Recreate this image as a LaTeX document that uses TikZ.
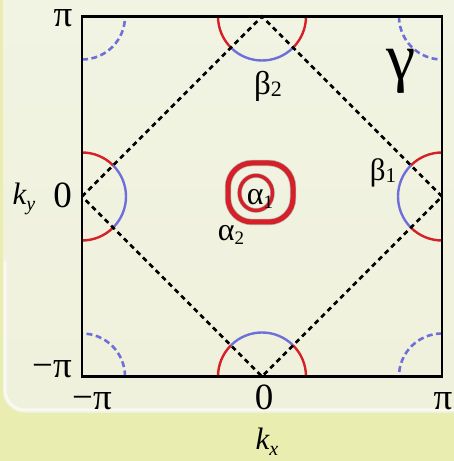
\documentclass[tikz,border=0pt]{standalone}
\usepackage{fontspec}
\setmainfont{Liberation Serif}
\definecolor{bandc}{HTML}{E9EDB0}
\definecolor{panelc}{HTML}{EFF1DC}
\definecolor{paneltop}{HTML}{F2F4E4}
\definecolor{fsblue}{HTML}{6F6FDB}
\definecolor{fsred}{HTML}{D61F26}
\tikzset{
  framebox/.style={line width=2.8pt, draw=black},
  bzone/.style={line width=2.6pt, draw=black, dash pattern=on 5pt off 4pt},
  redarc/.style={draw=fsred, line width=2.4pt},
  bluearc/.style={draw=fsblue, line width=2.4pt},
  cornerarc/.style={draw=fsblue, line width=2.6pt, dash pattern=on 6pt off 3.5pt},
  lbl/.style={inner sep=0pt, anchor=base, text height=18pt, font=\fontsize{37}{40}\selectfont},
  klbl/.style={inner sep=0pt, anchor=base, text depth=5pt, font=\fontsize{31}{34}\selectfont\itshape},
  glbl/.style={inner sep=0pt, anchor=base},
}
\begin{document}
\begin{tikzpicture}[x=1pt,y=1pt]
\useasboundingbox (0,0) rectangle (454,461);
% background
\fill[bandc] (0,0) rectangle (454,461);
\shade[top color=paneltop, bottom color=panelc, rounded corners=22pt] (3,48) rectangle (490,500);
\draw[white, opacity=0.6, line width=3pt, rounded corners=20pt] (5,200) -- (5,51) -- (490,51);

% key points
\coordinate (C) at (262,264.5);
\coordinate (L) at (82,264.5);
\coordinate (R) at (442,264.5);
\coordinate (T) at (262,444.5);
\coordinate (B) at (262,84.5);
\coordinate (TL) at (82,444.5);
\coordinate (TR) at (442,444.5);
\coordinate (BL) at (82,84.5);
\coordinate (BR) at (442,84.5);

% corner (gamma) pockets, dashed blue
\draw[cornerarc] ([shift={(270:43)}]TL) arc[start angle=270, end angle=360, radius=43];
\draw[cornerarc] ([shift={(180:43)}]TR) arc[start angle=180, end angle=270, radius=43];
\draw[cornerarc] ([shift={(0:43)}]BL) arc[start angle=0, end angle=90, radius=43];
\draw[cornerarc] ([shift={(90:43)}]BR) arc[start angle=90, end angle=180, radius=43];

% beta pockets
% left
\draw[redarc] ([shift={(90:44)}]L) arc[start angle=90, end angle=45, radius=44];
\draw[bluearc] ([shift={(45:44)}]L) arc[start angle=45, end angle=-45, radius=44];
\draw[redarc] ([shift={(-45:44)}]L) arc[start angle=-45, end angle=-90, radius=44];
% right
\draw[redarc] ([shift={(90:44)}]R) arc[start angle=90, end angle=135, radius=44];
\draw[bluearc] ([shift={(135:44)}]R) arc[start angle=135, end angle=225, radius=44];
\draw[redarc] ([shift={(225:44)}]R) arc[start angle=225, end angle=270, radius=44];
% top
\draw[redarc] ([shift={(180:44)}]T) arc[start angle=180, end angle=225, radius=44];
\draw[bluearc] ([shift={(225:44)}]T) arc[start angle=225, end angle=315, radius=44];
\draw[redarc] ([shift={(315:44)}]T) arc[start angle=315, end angle=360, radius=44];
% bottom
\draw[redarc] ([shift={(0:44)}]B) arc[start angle=0, end angle=45, radius=44];
\draw[bluearc] ([shift={(45:44)}]B) arc[start angle=45, end angle=135, radius=44];
\draw[redarc] ([shift={(135:44)}]B) arc[start angle=135, end angle=180, radius=44];

% alpha pockets
\draw[black!30, line width=6.4pt, rounded corners=24pt] (228,239) rectangle (293,298);
\draw[fsred, line width=5pt, rounded corners=24pt] (228,239) rectangle (293,298);
\draw[black!30, line width=4.6pt] (256,268) ellipse[x radius=16.5, y radius=17.5];
\draw[fsred, line width=3.4pt] (256,268) ellipse[x radius=16.5, y radius=17.5];

% magnetic Brillouin zone
\draw[bzone] (L) -- (T) -- (R) -- (B) -- cycle;

% frame
\draw[framebox] (BL) rectangle (TR);

% axis labels
\node[lbl, text height=16pt] (pitop) at (63,434) {π};
\node[lbl] (zeroy) at (62.5,253) {0};
\node[lbl] (mpiy) at (52,83) {−π};
\node[lbl] (mpix) at (92,51) {−π};
\node[lbl] (zerox) at (264,51) {0};
\node[lbl] (pix) at (443,51) {π};
\node[klbl] (ky) at (24,256) {k\raisebox{-6pt}{\fontsize{20}{22}\selectfont y}};
\node[klbl] (kx) at (267,11) {k\raisebox{-6pt}{\fontsize{20}{22}\selectfont x}};

% pocket labels
\node[glbl, font=\fontsize{66}{70}\selectfont] (gam) at (401,381) {γ};
\node[glbl, font=\fontsize{33}{36}\selectfont] (b2) at (268,366) {β\raisebox{-2pt}{\fontsize{22}{24}\selectfont 2}};
\node[glbl, font=\fontsize{31}{34}\selectfont] (b1) at (383,280) {β\raisebox{-2pt}{\fontsize{21}{22}\selectfont 1}};
\node[glbl, font=\fontsize{32}{34}\selectfont] (a1) at (260,256) {α\raisebox{-4pt}{\fontsize{19}{20}\selectfont 1}};
\node[glbl, font=\fontsize{32}{34}\selectfont] (a2) at (231,220) {α\raisebox{-4pt}{\fontsize{19}{20}\selectfont 2}};
\end{tikzpicture}
\end{document}
